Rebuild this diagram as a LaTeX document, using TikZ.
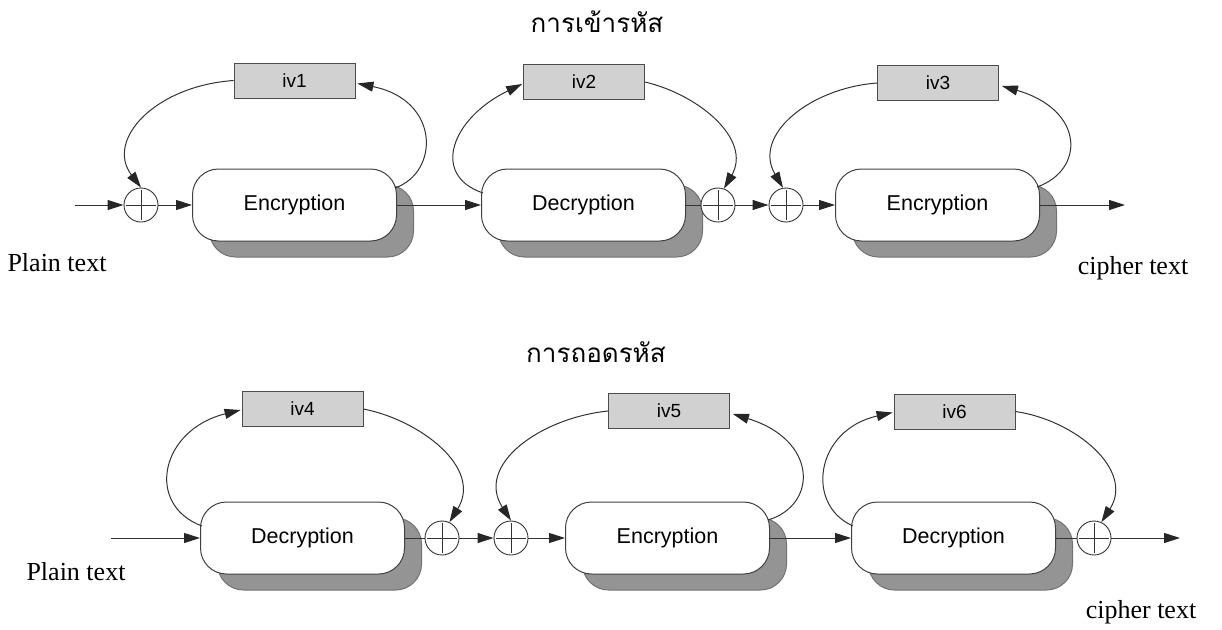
\documentclass[tikz,border=0pt]{standalone}
\usepackage{fontspec}
\setmainfont{Liberation Serif}
\newfontfamily\arialfont{Liberation Sans}
\newfontfamily\thaifont[Script=Thai]{Loma}
\usetikzlibrary{shadows,calc,arrows.meta}
\begin{document}
\begin{tikzpicture}[x=1pt,y=-1pt,
  proc/.style={draw=black!75, line width=1pt, fill=white, rounded corners=26pt,
    minimum width=204pt, minimum height=72pt, inner sep=0pt,
    font=\arialfont\fontsize{21.5}{26}\selectfont,
    general shadow={shadow xshift=17pt, shadow yshift=-16pt, fill=black!42, draw=black!55}},
  ivbox/.style={draw=black!70, fill=black!18, line width=0.8pt,
    minimum width=121pt, minimum height=35pt, inner sep=0pt,
    font=\arialfont\fontsize{19}{22}\selectfont},
  xor/.style={circle, draw=black!80, fill=white, minimum size=34pt, inner sep=0pt, line width=0.9pt},
  conn/.style={draw=black!80, line width=1pt},
  arr/.style={conn, -{Triangle[length=16pt,width=10pt,color=black!85,fill=black!85]}},
  serlabel/.style={font=\fontsize{26}{30}\selectfont, inner sep=0pt},
  thaititle/.style={font=\thaifont\fontsize{26}{30}\selectfont, inner sep=0pt}
]
\useasboundingbox (0,0) rectangle (1222,629);

% titles and labels
\node[thaititle] (t1) at (597,22) {การเข้ารหัส};
\node[thaititle] (t2) at (596,352) {การถอดรหัส};
\node[serlabel] (p1) at (57,263) {Plain text};
\node[serlabel] (c1) at (1133,268) {cipher text};
\node[serlabel] (p2) at (76,572) {Plain text};
\node[serlabel] (c2) at (1141,612) {cipher text};

% row 1
\node[proc] (e1) at (294.5,205) {Encryption};
\node[proc] (d2) at (583.5,205) {Decryption};
\node[proc] (e3) at (937.5,205) {Encryption};
\node[ivbox] (iv1) at (294.5,80.5) {iv1};
\node[ivbox] (iv2) at (584,82) {iv2};
\node[ivbox] (iv3) at (938,83) {iv3};
\node[xor] (x1) at (141,205) {};
\node[xor] (x2) at (718,205) {};
\node[xor] (x3) at (786,205) {};
\coordinate (in1) at (75,205);
\coordinate (out1) at (1125,205);

% row 2
\node[proc] (d4) at (302.5,538) {Decryption};
\node[proc] (e5) at (667.5,538) {Encryption};
\node[proc] (d6) at (953.5,538) {Decryption};
\node[ivbox] (iv4) at (302.5,409) {iv4};
\node[ivbox] (iv5) at (669,411) {iv5};
\node[ivbox] (iv6) at (954.5,411.5) {iv6};
\node[xor] (x4) at (442,538) {};
\node[xor] (x5) at (511,538) {};
\node[xor] (x6) at (1094,538) {};
\coordinate (in2) at (111,538);
\coordinate (out2) at (1180,538);

% crosses in xor circles
\foreach \n in {x1,x2,x3,x4,x5,x6}{
  \draw[draw=black!80, line width=0.8pt] (\n.center) +(-15,0) -- +(15,0) (\n.center) +(0,-15) -- +(0,15);
}

% straight connectors row 1
\draw[arr] (in1) -- (x1.west);
\draw[arr] (x1.east) -- (e1.west);
\draw[arr] (e1.east) -- (d2.west);
\draw[conn] (d2.east) -- (x2.west);
\draw[arr] (x2.east) -- (x3.west);
\draw[arr] (x3.east) -- (e3.west);
\draw[arr] (e3.east) -- (out1);

% straight connectors row 2
\draw[arr] (in2) -- (d4.west);
\draw[conn] (d4.east) -- (x4.west);
\draw[arr] (x4.east) -- (x5.west);
\draw[arr] (x5.east) -- (e5.west);
\draw[arr] (e5.east) -- (d6.west);
\draw[conn] (d6.east) -- (x6.west);
\draw[arr] (x6.east) -- (out2);

% feedback curves row 1
\draw[arr] (iv1.west) .. controls (155,86) and (105,140) .. (x1.north);
\draw[arr] ($(e1.east)+(-2,-17)$) .. controls (440,172) and (440,100) .. ($(iv1.east)+(2,3)$);
\draw[arr] ($(d2.west)+(2,-12)$) .. controls (430,175) and (452,118) .. ($(iv2.west)+(-1,2)$);
\draw[arr] (iv2.east) .. controls (700,95) and (752,140) .. (x2.70);
\draw[arr] (iv3.west) .. controls (810,88) and (752,135) .. (x3.100);
\draw[arr] ($(e3.east)+(-3,-18)$) .. controls (1085,170) and (1085,110) .. ($(iv3.east)+(3,3)$);

% feedback curves row 2
\draw[arr] ($(d4.west)+(2,-12)$) .. controls (145,505) and (160,430) .. ($(iv4.west)+(-1,1)$);
\draw[arr] (iv4.east) .. controls (420,420) and (483,468) .. (x4.65);
\draw[arr] (iv5.west) .. controls (540,418) and (475,465) .. (x5.north);
\draw[arr] ($(e5.east)+(-2,-18)$) .. controls (818,505) and (818,440) .. ($(iv5.east)+(3,3)$);
\draw[arr] ($(d6.west)+(2,-12)$) .. controls (805,505) and (815,430) .. ($(iv6.west)+(-1,1)$);
\draw[arr] (iv6.east) .. controls (1075,420) and (1135,470) .. (x6.65);
\end{tikzpicture}
\end{document}
